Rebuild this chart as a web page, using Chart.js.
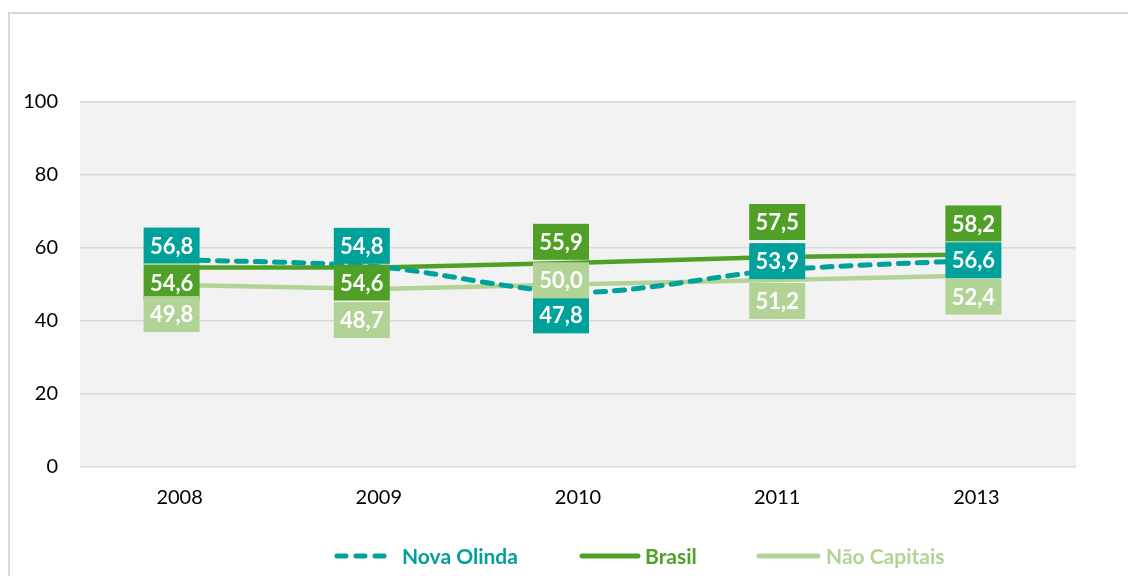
<!DOCTYPE html>
<html>
<head>
<meta charset="utf-8">
<script src="https://cdn.jsdelivr.net/npm/chart.js@4.4.1/dist/chart.umd.min.js"></script>
<style>
  body { margin: 0; background: #fff; }
  #chart { display: block; }
</style>
</head>
<body>
<canvas id="chart" width="1128" height="576"></canvas>
<script>
const years = ['2008', '2009', '2010', '2011', '2013'];
const novaOlinda = [56.8, 54.8, 47.8, 53.9, 56.6];
const brasil = [54.6, 54.6, 55.9, 57.5, 58.2];
const naoCapitais = [49.8, 48.7, 50.0, 51.2, 52.4];
const yTicks = [0, 20, 40, 60, 80, 100];

const seriesNames = ['Nova Olinda', 'Brasil', 'Não Capitais'];
const seriesColors = ['#00A19B', '#50A028', '#B2D396'];

// where each data label box sits relative to its point (pixels)
const labelDy = [
  [-14, -21, 23, -9, 0],
  [15, 15, -21, -35, -31],
  [29, 31, -4, 21, 21]
];
const labelDx = [-8, -17, -17, 0, -3];

const FONT = "Lato, 'Open Sans', 'DejaVu Sans', sans-serif";

const framePlugin = {
  id: 'frame',
  beforeDraw(chart) {
    const ctx = chart.ctx;
    const a = chart.chartArea;
    ctx.save();
    ctx.strokeStyle = '#d9d9d9';
    ctx.lineWidth = 2;
    ctx.strokeRect(9, 13, 1300, 700);
    ctx.fillStyle = '#f2f2f2';
    ctx.fillRect(a.left, a.top, a.right - a.left, a.bottom - a.top);
    ctx.restore();
  }
};

const boxLabels = {
  id: 'boxLabels',
  afterDatasetsDraw(chart) {
    const ctx = chart.ctx;
    ctx.save();
    ctx.font = 'bold 22px ' + FONT;
    ctx.textAlign = 'center';
    ctx.textBaseline = 'middle';
    chart.data.datasets.forEach((ds, di) => {
      const meta = chart.getDatasetMeta(di);
      meta.data.forEach((pt, i) => {
        const cx = pt.x + labelDx[i];
        const cy = pt.y + labelDy[di][i];
        ctx.fillStyle = seriesColors[di];
        ctx.fillRect(cx - 28, cy - 18, 56, 36);
        ctx.fillStyle = '#fff';
        ctx.fillText(ds.data[i].toFixed(1).replace('.', ','), cx, cy + 1);
      });
    });
    ctx.restore();
  }
};

const bottomLegend = {
  id: 'bottomLegend',
  afterDraw(chart) {
    const ctx = chart.ctx;
    const y = 556;
    const items = [
      { x1: 335, x2: 388, tx: 402, dash: true },
      { x1: 580, x2: 640, tx: 645, dash: false },
      { x1: 757, x2: 820, tx: 826, dash: false }
    ];
    ctx.save();
    ctx.font = 'bold 21px ' + FONT;
    ctx.textBaseline = 'middle';
    items.forEach((it, i) => {
      ctx.strokeStyle = seriesColors[i];
      ctx.lineWidth = 5;
      ctx.lineCap = 'round';
      ctx.setLineDash(it.dash ? [9, 10] : []);
      ctx.beginPath();
      ctx.moveTo(it.x1 + 2, y);
      ctx.lineTo(it.x2 - 2, y);
      ctx.stroke();
      ctx.fillStyle = seriesColors[i];
      ctx.fillText(seriesNames[i], it.tx, y + 1);
    });
    ctx.restore();
  }
};

new Chart(document.getElementById('chart'), {
  type: 'line',
  data: {
    labels: years,
    datasets: [
      {
        label: seriesNames[0],
        data: novaOlinda,
        borderColor: seriesColors[0],
        borderWidth: 5,
        borderDash: [10, 9],
        borderCapStyle: 'round',
        tension: 0.3,
        pointRadius: 0
      },
      {
        label: seriesNames[1],
        data: brasil,
        borderColor: seriesColors[1],
        borderWidth: 4.5,
        pointRadius: 0
      },
      {
        label: seriesNames[2],
        data: naoCapitais,
        borderColor: seriesColors[2],
        borderWidth: 4.5,
        pointRadius: 0
      }
    ]
  },
  options: {
    responsive: false,
    animation: false,
    devicePixelRatio: 1,
    layout: { padding: { top: 102, right: 52, bottom: 0, left: 0 } },
    plugins: {
      legend: { display: false },
      tooltip: { enabled: false }
    },
    scales: {
      x: {
        offset: true,
        grid: { display: false, drawTicks: false },
        border: { display: false },
        ticks: { color: '#000', font: { family: FONT, size: 20 }, padding: 19 },
        afterFit(s) { s.height = 109.3; }
      },
      y: {
        min: 0,
        max: 100,
        afterBuildTicks(s) { s.ticks = yTicks.map(v => ({ value: v })); },
        grid: { color: '#d9d9d9', lineWidth: 1.5, drawTicks: false },
        border: { display: false },
        ticks: { color: '#000', font: { family: FONT, size: 20 }, padding: 22 },
        afterFit(s) { s.width = 80; }
      }
    }
  },
  plugins: [framePlugin, boxLabels, bottomLegend]
});
</script>
</body>
</html>
